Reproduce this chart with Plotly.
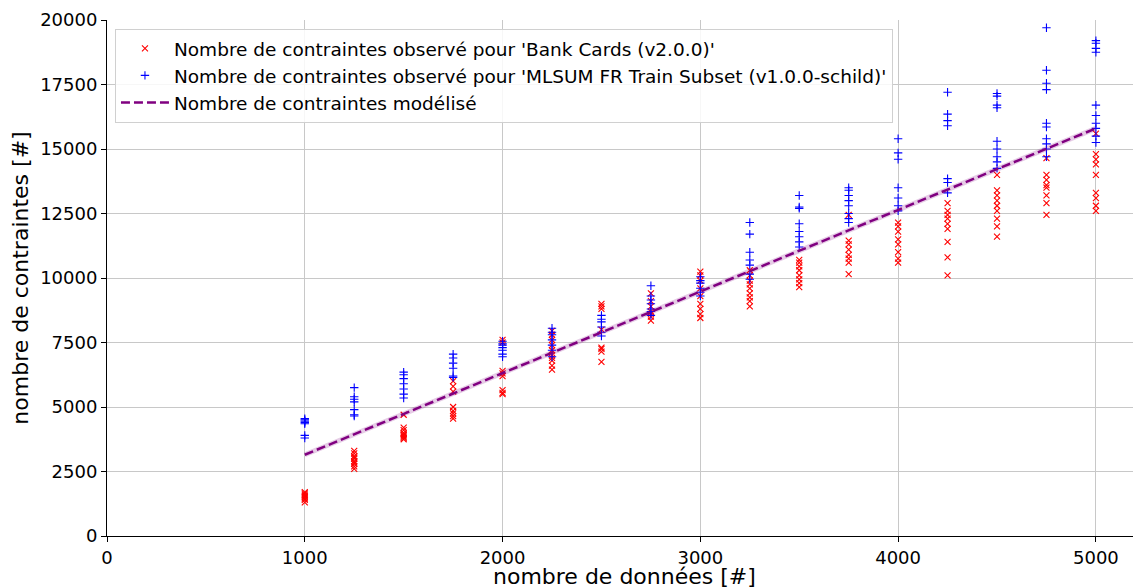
import plotly.graph_objects as go

n_data = [1000, 1250, 1500, 1750, 2000, 2250, 2500, 2750, 3000,
          3250, 3500, 3750, 4000, 4250, 4500, 4750, 5000]

bank_cards = [
    [1300, 1400, 1450, 1500, 1550, 1600, 1650, 1700],
    [2600, 2700, 2800, 2850, 2900, 3000, 3050, 3100, 3200, 3300],
    [3750, 3800, 3850, 3900, 3950, 4000, 4100, 4200, 4700],
    [4550, 4650, 4750, 4850, 5000, 5600, 5800, 6000],
    [5500, 5550, 5650, 6200, 6300, 6400, 7500, 7600],
    [6450, 6600, 6800, 6900, 7000, 7200, 7400, 7600, 7800, 7950],
    [6750, 7150, 7250, 7300, 8000, 8800, 8900, 9000],
    [8350, 8500, 8600, 8700, 8900, 9100, 9400],
    [8450, 8600, 8800, 9000, 9300, 9600, 9900, 10100, 10250],
    [8900, 9100, 9250, 9400, 9600, 9750, 9900, 10100, 10300],
    [9650, 9800, 9950, 10100, 10300, 10450, 10600, 10700],
    [10150, 10600, 10750, 10900, 11100, 11300, 11450, 12450],
    [10600, 10750, 11000, 11300, 11500, 11800, 12000, 12150],
    [10100, 10800, 11400, 11900, 12100, 12300, 12450, 12600, 12900],
    [11600, 12000, 12300, 12600, 12800, 13000, 13200, 13400, 14000],
    [12450, 12900, 13200, 13500, 13600, 13800, 14000, 14650],
    [12600, 12800, 13100, 13300, 14000, 14400, 14600, 14800, 15600],
]

mlsum_fr = [
    [3800, 3900, 4350, 4400, 4450, 4500, 4550],
    [4650, 4700, 4900, 5200, 5300, 5400, 5750],
    [5350, 5500, 5700, 5900, 6100, 6250, 6350],
    [6150, 6200, 6500, 6700, 6900, 7050],
    [6950, 7050, 7200, 7300, 7400, 7450, 7550],
    [6950, 7200, 7400, 7600, 7800, 7900, 8050],
    [7750, 7900, 8100, 8300, 8400, 8550],
    [8550, 8700, 8800, 9000, 9150, 9300, 9700],
    [9300, 9450, 9600, 9800, 9900, 10050],
    [9950, 10150, 10500, 10700, 11000, 11700, 12150],
    [11200, 11400, 11600, 11800, 12100, 12700, 12750, 13200],
    [12150, 12300, 12500, 12800, 13000, 13200, 13400, 13500],
    [12600, 12800, 13100, 13500, 14600, 14850, 15400],
    [13300, 13700, 13850, 15900, 16100, 16350, 17200],
    [14250, 14500, 14700, 15000, 15300, 16600, 16700, 17050, 17150],
    [14700, 15000, 15200, 15400, 15850, 16000, 17300, 17550, 18050, 19700],
    [15250, 15500, 15800, 16000, 16300, 16700, 18750, 18900, 19100, 19200],
]

model = [3150, 3940, 4730, 5520, 6310, 7100, 7900, 8690, 9480,
         10270, 11060, 11850, 12640, 13430, 14220, 15010, 15800]

x_ticks = [0, 1000, 2000, 3000, 4000, 5000]
y_ticks = [0, 2500, 5000, 7500, 10000, 12500, 15000, 17500, 20000]


def flatten(groups):
    xs, ys = [], []
    for n, vals in zip(n_data, groups):
        for v in vals:
            xs.append(n)
            ys.append(v)
    return xs, ys


bx, by = flatten(bank_cards)
mx, my = flatten(mlsum_fr)

font = "DejaVu Sans"
fig = go.Figure()

fig.add_trace(go.Scatter(
    x=bx, y=by, mode="markers",
    name="Nombre de contraintes observé pour 'Bank Cards (v2.0.0)'",
    marker=dict(symbol="x-thin-open", size=6, color="red",
                line=dict(color="red", width=1.1)),
))
fig.add_trace(go.Scatter(
    x=mx, y=my, mode="markers",
    name="Nombre de contraintes observé pour 'MLSUM FR Train Subset (v1.0.0-schild)'",
    marker=dict(symbol="cross-thin-open", size=6, color="blue",
                line=dict(color="blue", width=1.1)),
))
fig.add_trace(go.Scatter(
    x=n_data, y=model, mode="lines", showlegend=False, hoverinfo="skip",
    line=dict(color="rgba(128,0,128,0.2)", width=5),
))
fig.add_trace(go.Scatter(
    x=n_data, y=model, mode="lines",
    name="Nombre de contraintes modélisé",
    line=dict(color="purple", width=2.5, dash="9px,4px"),
))

fig.update_layout(
    width=1133, height=579,
    margin=dict(l=99, r=0, t=12, b=51, autoexpand=False),
    paper_bgcolor="white", plot_bgcolor="white",
    font=dict(family=font, size=18, color="black"),
    showlegend=True,
    legend=dict(
        x=0.0077, y=0.983, xanchor="left", yanchor="top",
        bgcolor="rgba(255,255,255,0.85)", bordercolor="#d0d0d0", borderwidth=1,
        font=dict(family=font, size=18.5), itemwidth=48,
        tracegroupgap=0,
    ),
    xaxis=dict(
        range=[0, 5228], tickvals=x_ticks, ticktext=[str(t) for t in x_ticks],
        showgrid=True, gridcolor="#c8c8c8", gridwidth=1,
        showline=True, linecolor="black", linewidth=1,
        ticks="outside", ticklen=5, tickcolor="black",
        zeroline=False, automargin=False,
        tickfont=dict(size=18),
    ),
    yaxis=dict(
        range=[0, 20000], tickvals=y_ticks, ticktext=[str(t) for t in y_ticks],
        showgrid=True, gridcolor="#c8c8c8", gridwidth=1,
        showline=True, linecolor="black", linewidth=1,
        ticks="outside", ticklen=5, tickcolor="black",
        zeroline=False, automargin=False,
        title=dict(text="nombre de contraintes [#]", font=dict(size=22), standoff=6),
        tickfont=dict(size=18),
    ),
    annotations=[dict(
        text="nombre de données [#]", xref="paper", yref="paper",
        x=0.5, y=0, yshift=-40, xanchor="center", yanchor="middle",
        showarrow=False, font=dict(family=font, size=22),
    )],
)

fig.write_html("out.html")
